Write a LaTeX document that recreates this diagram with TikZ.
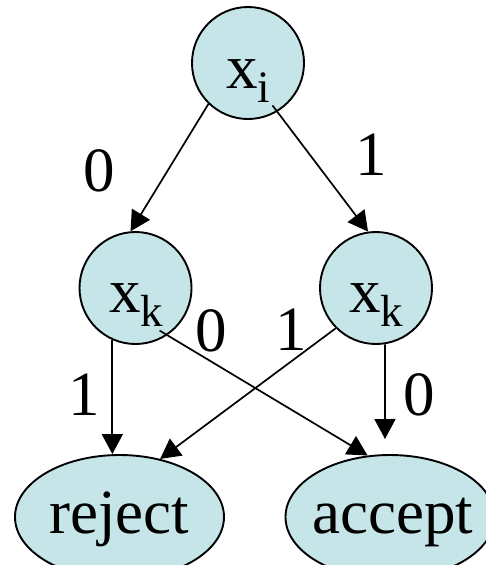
\documentclass[tikz,border=0pt]{standalone}
\usepackage{fontspec}
\setmainfont{Liberation Serif}
\usetikzlibrary{shapes.geometric,arrows.meta,calc}

\definecolor{nodefill}{RGB}{197,229,232}
\newcommand\subsc[1]{\raisebox{-14.5pt}{\fontsize{45}{45}\selectfont #1}}

\tikzset{
  vertex/.style={circle, draw, fill=nodefill, line width=1.9pt, minimum size=112pt, inner sep=0pt},
  leaf/.style={ellipse, draw, fill=nodefill, line width=1.9pt, minimum width=209pt, minimum height=124pt, inner sep=0pt},
  txt/.style={inner sep=0pt, font=\fontsize{63}{70}\selectfont},
  edge/.style={line width=1.7pt, -{Triangle[length=20pt,width=21pt]}},
}

\begin{document}
\begin{tikzpicture}[x=1pt,y=-1pt]
  \useasboundingbox (0,0) rectangle (485,565);

  % decision nodes and sinks
  \node[vertex] (xi)  at (248,63)  {};
  \node[vertex] (xkl) at (135.5,288) {};
  \node[vertex] (xkr) at (376,288) {};
  \node[leaf] (rej) at (119.5,517) {};
  \node[leaf] (acc) at (390,517) {};

  % node texts
  \node[txt, anchor=base west] (xit)  at (226,88)  {x\subsc{i}};
  \node[txt, anchor=base west] (xklt) at (109,312) {x\subsc{k}};
  \node[txt, anchor=base west] (xkrt) at (349,312) {x\subsc{k}};
  \node[txt, anchor=base west] (rejt) at (49,533)  {reject};
  \node[txt, anchor=base west] (acct) at (312,533) {accept};

  % free end of the right-hand 0 edge
  \coordinate (accend) at (385,439);

  % edges
  \draw[edge] (xi.226) -- (xkl.95);
  \draw[edge, shorten <=-8pt] (xi.301) -- (xkr.98);
  \draw[edge] (xkl.246) -- (xkl.246 |- rej.north);
  \draw[edge, shorten <=-9pt] (xkl.304) -- (acc.110);
  \draw[edge] (xkr.225) -- (rej.55);
  \draw[edge] (xkr.279) -- (accend);

  % edge labels
  \node[txt, anchor=base] (l0a) at (99,191)  {0};
  \node[txt, anchor=base] (l1a) at (371,175) {1};
  \node[txt, anchor=base] (l0b) at (211,351) {0};
  \node[txt, anchor=base] (l1b) at (291,350) {1};
  \node[txt, anchor=base] (l1c) at (84,415)  {1};
  \node[txt, anchor=base] (l0c) at (419,415) {0};
\end{tikzpicture}
\end{document}
